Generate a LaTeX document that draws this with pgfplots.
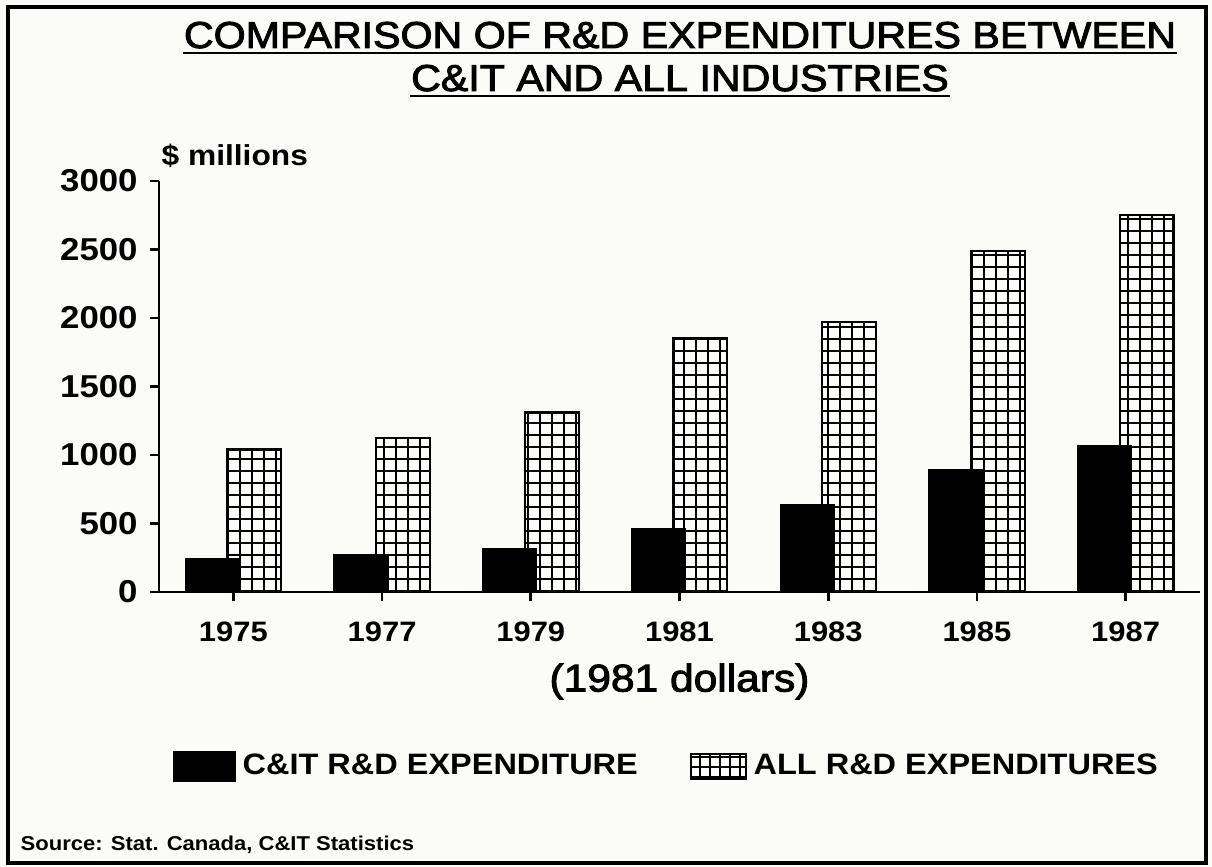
\documentclass[border=0pt]{standalone}
\usepackage{pgfplots}
\pgfplotsset{compat=1.18}
\usepackage{pgfplotstable}
\usetikzlibrary{patterns.meta}
\usepackage{fontspec}
\setmainfont{Liberation Sans}[FakeStretch=1.1]
\newfontfamily\titlefont{Liberation Sans}[FakeStretch=1.1, FakeBold=2.5]
\definecolor{paper}{RGB}{251,251,247}

\pgfplotstableread{
x c a
0 240 1040
1 270 1125
2 315 1310
3 460 1850
4 635 1970
5 890 2490
6 1070 2755
}\data

\begin{document}
\begin{tikzpicture}[x=1cm,y=1cm]
\fill[paper] (0,0) rectangle (12.12,-8.67);
\draw[line width=0.9pt] (0.08,-0.07) rectangle (12.06,-8.63);
% title
\node[anchor=base, inner sep=0, font=\titlefont\fontsize{10.65}{12}\selectfont] (t1) at (6.8,-0.48) {COMPARISON OF R\&D EXPENDITURES BETWEEN};
\draw[line width=0.75pt] ([yshift=-0.05cm]t1.base west) -- ([yshift=-0.05cm]t1.base east);
\node[anchor=base, inner sep=0, font=\titlefont\fontsize{10.65}{12}\selectfont] (t2) at (6.8,-0.91) {C\&IT AND ALL INDUSTRIES};
\draw[line width=0.75pt] ([yshift=-0.05cm]t2.base west) -- ([yshift=-0.05cm]t2.base east);
% y unit
\node[anchor=base west, inner sep=0, font=\bfseries\fontsize{8.2}{10}\selectfont] at (1.61,-1.66) {\$ millions};
% source
\node[anchor=base west, inner sep=0, font=\bfseries\fontsize{5.7}{7}\selectfont] at (0.20,-8.51) {Source: Stat. Canada, C\&IT Statistics};
\begin{axis}[
  at={(1.59cm,-5.92cm)}, anchor=south west,
  scale only axis, width=10.41cm, height=4.11cm,
  xmin=-0.5, xmax=6.5, ymin=0, ymax=3000,
  axis x line*=bottom, axis y line*=left,
  axis line style={line width=0.8pt, -},
  tick align=outside, major tick length=0.09cm,
  tick style={line width=0.8pt, black},
  xtick={0,1,2,3,4,5,6},
  xticklabels={1975,1977,1979,1981,1983,1985,1987},
  ytick={0,500,1000,1500,2000,2500,3000},
  yticklabels={0,500,1000,1500,2000,2500,3000},
  yticklabel style={font=\bfseries\fontsize{9}{10}\selectfont},
  xticklabel style={font=\bfseries\fontsize{8}{10}\selectfont, yshift=-0.08cm},
  xlabel={(1981 dollars)},
  xlabel style={font=\titlefont\fontsize{11}{12}\selectfont, yshift=0.02cm},
  legend columns=2,
  legend style={at={(axis description cs:0.49,-0.425)}, anchor=center, draw=none, fill=none,
    font=\bfseries\fontsize{8.4}{10}\selectfont,
    /tikz/every even column/.append style={column sep=0.45cm}},
]
\addplot[ybar, bar width=0.362, bar shift=0.141, draw=black, line width=0.6pt,
  pattern={Hatch[angle=0,distance=0.12cm,line width=0.6pt]}, pattern color=black, forget plot]
  table[x=x,y=a]{\data};
\addplot[ybar, bar width=0.362, bar shift=-0.141, fill=black, draw=black, forget plot]
  table[x=x,y=c]{\data};
\addlegendimage{legend image code/.code={\fill[black] (0cm,-0.15cm) rectangle (0.61cm,0.15cm);}}
\addlegendentry{C\&IT R\&D EXPENDITURE}
\addlegendimage{legend image code/.code={\draw[line width=0.6pt, pattern={Hatch[angle=0,distance=0.1cm,line width=0.5pt]}, pattern color=black] (0cm,-0.12cm) rectangle (0.55cm,0.13cm);}}
\addlegendentry{ALL R\&D EXPENDITURES}
\end{axis}
\end{tikzpicture}
\end{document}
